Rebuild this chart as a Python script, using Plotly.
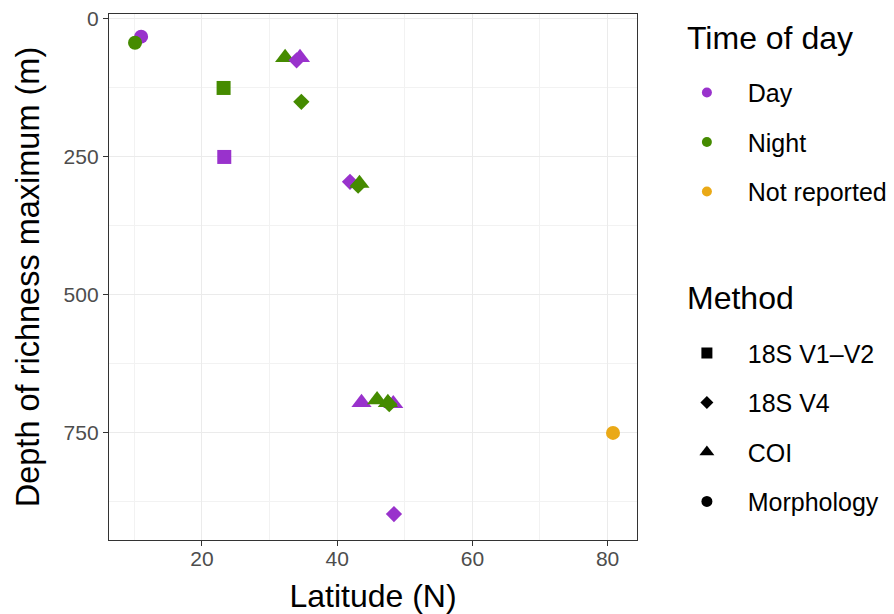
import plotly.graph_objects as go

# Observations: latitude (°N), depth of richness maximum (m), sampling time, method
latitude = [11.0, 10.1, 23.2, 23.3, 32.3, 34.5, 34.0, 34.7, 41.9, 43.1, 43.3,
            43.6, 45.9, 48.3, 47.5, 47.7, 48.4, 80.8]
depth = [32, 43, 125, 250, 70, 70, 75, 150, 295, 302, 298,
         695, 690, 697, 695, 698, 897, 750]
time_of_day = ["Day", "Night", "Night", "Day", "Night", "Day", "Day", "Night", "Day", "Night", "Night",
               "Day", "Night", "Day", "Night", "Night", "Day", "Not reported"]
method = ["Morphology", "Morphology", "18S V1–V2", "18S V1–V2", "COI", "COI", "18S V4", "18S V4",
          "18S V4", "18S V4", "COI", "COI", "COI", "COI", "COI", "18S V4", "18S V4", "Morphology"]

time_levels = ["Day", "Night", "Not reported"]
method_levels = ["18S V1–V2", "18S V4", "COI", "Morphology"]

time_colors = {"Day": "#9932CC", "Night": "#458B00", "Not reported": "#EAA916"}
method_symbols = {"18S V1–V2": "square", "18S V4": "diamond", "COI": "triangle-up", "Morphology": "circle"}
symbol_sizes = {"square": 14, "diamond": 12.5, "triangle-up": 17.5, "circle": 14}
legend_sizes = {"square": 11, "diamond": 10, "triangle-up": 13, "circle": 11}

FONT = "Liberation Sans, Arial, sans-serif"
PAD = "\u00a0" * 3  # gap between legend key and label

fig = go.Figure()

syms = [method_symbols[m] for m in method]
fig.add_trace(go.Scatter(
    x=latitude, y=depth, mode="markers", showlegend=False,
    marker=dict(color=[time_colors[t] for t in time_of_day],
                symbol=syms, size=[symbol_sizes[s] for s in syms],
                opacity=1, line=dict(width=0)),
    hovertemplate="%{x}°N, %{y} m<extra></extra>",
))

# Legend entries: colour by time of day
for t in time_levels:
    fig.add_trace(go.Scatter(
        x=[None], y=[None], mode="markers", name=PAD + t, legend="legend", legendgroup="t_" + t,
        marker=dict(color=time_colors[t], symbol="circle", size=10, opacity=1),
    ))

# Legend entries: symbol by method
for m in method_levels:
    s = method_symbols[m]
    fig.add_trace(go.Scatter(
        x=[None], y=[None], mode="markers", name=PAD + m, legend="legend2", legendgroup="m_" + m,
        marker=dict(color="black", symbol=s, size=legend_sizes[s], opacity=1),
    ))

axis_common = dict(
    showline=True, mirror=True, linecolor="#333333", linewidth=1.3,
    ticks="outside", ticklen=5, tickwidth=1.3, tickcolor="#333333",
    showgrid=True, gridcolor="#EBEBEB", gridwidth=1.4,
    zeroline=False,
    tickfont=dict(family=FONT, size=21, color="#4D4D4D"),
)

fig.update_xaxes(
    **axis_common, range=[6.25, 84.35], tick0=0, dtick=20, ticklabelstandoff=-5,
    minor=dict(dtick=10, showgrid=True, gridcolor="#F2F2F2", gridwidth=0.8),
    title=dict(text="Latitude (N)", font=dict(family=FONT, size=32, color="black"), standoff=18),
)
fig.update_yaxes(
    **axis_common, range=[944, -9], tick0=0, dtick=250,
    minor=dict(dtick=125, showgrid=True, gridcolor="#F2F2F2", gridwidth=0.8),
    title=dict(text="Depth of richness maximum (m)", font=dict(family=FONT, size=32.5, color="black"), standoff=14),
)

legend_common = dict(
    bgcolor="rgba(0,0,0,0)", borderwidth=0, traceorder="grouped", tracegroupgap=14,
    font=dict(family=FONT, size=25, color="black"), itemsizing="trace",
    xanchor="left", yanchor="top",
)

fig.update_layout(
    width=894, height=614,
    margin=dict(l=109, r=257, t=14, b=74, autoexpand=False),
    plot_bgcolor="white", paper_bgcolor="white",
    legend=dict(**legend_common, x=1.0945, y=0.894),
    legend2=dict(**legend_common, x=1.0945, y=0.399),
    annotations=[
        dict(text="Time of day", xref="paper", yref="paper", x=1.0909, y=0.9544,
             xanchor="left", yanchor="middle", showarrow=False,
             font=dict(family=FONT, size=32, color="black")),
        dict(text="Method", xref="paper", yref="paper", x=1.0909, y=0.4601,
             xanchor="left", yanchor="middle", showarrow=False,
             font=dict(family=FONT, size=32, color="black")),
    ],
)

fig.write_html("out.html")
